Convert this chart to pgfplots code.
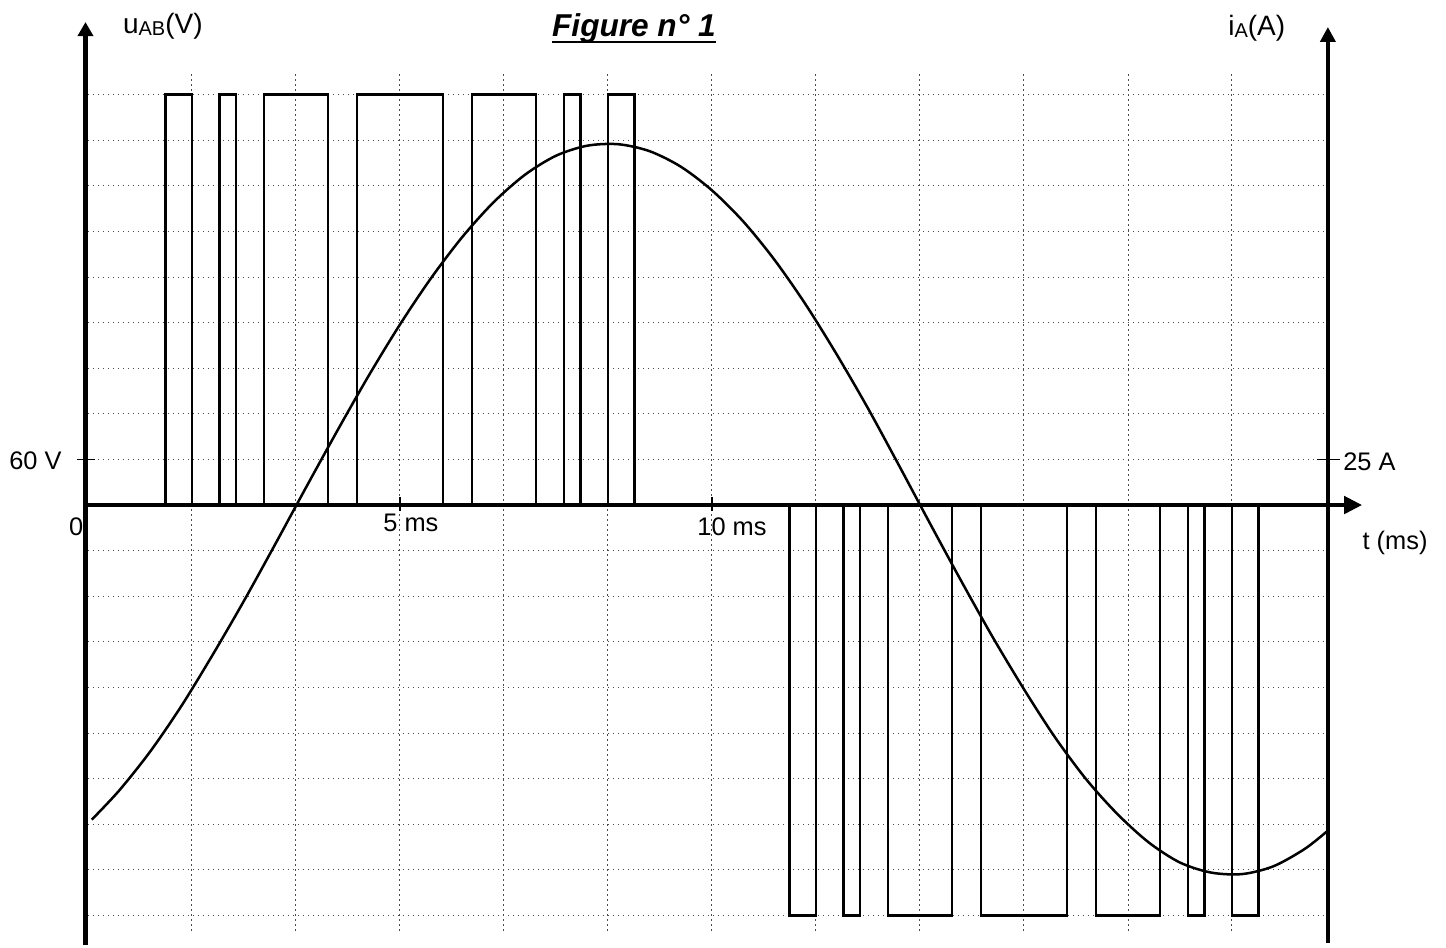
\documentclass[border=0pt]{standalone}
\usepackage{fontspec}
\setmainfont{Liberation Sans}
\usepackage{pgfplots}
\usepackage{pgfplotstable}
\pgfplotsset{compat=1.18}
\usetikzlibrary{arrows.meta}

\pgfplotstableread{
t u
0 0
1.24 540
1.667 0
2.11 540
2.37 0
2.82 540
3.85 0
4.31 540
5.69 0
6.15 540
7.18 0
7.63 540
7.89 0
8.333 540
8.76 0
11.24 -540
11.667 0
12.11 -540
12.37 0
12.82 -540
13.85 0
14.31 -540
15.69 0
16.15 -540
17.18 0
17.63 -540
17.89 0
18.333 -540
18.76 0
19.87 0
}\uab

\pgfplotstableread{
t i
0.06 -172.5
0.5 -156.5
1 -135
1.5 -110
2 -82
2.5 -52.5
3 -21.5
3.5 10
4 41
4.5 71
5 99
5.5 124.5
6 147
6.5 166
7 181
7.5 191.5
8 197
8.5 197.8
9 194
9.5 185.5
10 172.5
10.5 155.5
11 134.5
11.5 110
12 82.5
12.5 53
13 21.5
13.5 -10.5
14 -42
14.5 -72.5
15 -101
15.5 -127.5
16 -150.5
16.5 -169.5
17 -185
17.5 -196
18 -201.5
18.5 -202.3
19 -198
19.5 -188.5
19.87 -178.5
}\ia

\tikzset{gridl/.style={line width=0.5bp, black!70, dash pattern=on 0.7bp off 1.8bp}}

\begin{document}
\begin{tikzpicture}[font=\fontsize{12.7bp}{15bp}\selectfont]
\begin{axis}[at={(0,0)}, anchor=south west, scale only axis,
  width=723bp, height=472.5bp,
  xmin=-1.41, xmax=21.763, ymin=-578.9, ymax=664.5,
  hide axis, clip=false]
  \path (axis cs:-1.41,-578.9) rectangle (axis cs:21.763,664.5);
  % grid
  \pgfplotsinvokeforeach{1.6667,3.3333,5,6.6667,8.3333,10,11.6667,13.3333,15,16.6667,18.3333}{
    \draw[gridl] (axis cs:#1,-560) -- (axis cs:#1,570);
  }
  \pgfplotsinvokeforeach{-540,-480,-420,-360,-300,-240,-180,-120,-60,60,120,180,240,300,360,420,480,540}{
    \draw[gridl] (axis cs:0,#1) -- (axis cs:19.87,#1);
  }
  % voltage
  \addplot[const plot, black, line width=1.2bp] table[x=t,y=u]{\uab};
  % axes
  \draw[line width=2.3bp, -{Triangle[length=7bp,width=7.5bp]}] (axis cs:-0.04,-578.9) -- (axis cs:-0.04,635.5);
  \draw[line width=2.3bp, -{Triangle[length=7.5bp,width=7.5bp]}] (axis cs:19.87,-576) -- (axis cs:19.87,629);
  \draw[line width=2.4bp, -{Triangle[length=9bp,width=8.5bp]}] (axis cs:-0.04,0) -- (axis cs:20.42,0);
  % ticks
  \draw[line width=0.9bp] (axis cs:-0.176,60) -- (axis cs:0.112,60);
  \draw[line width=0.9bp] (axis cs:19.70,60) -- (axis cs:20.06,60);
  \draw[line width=0.9bp] (axis cs:5,-8) -- (axis cs:5,10);
  \draw[line width=0.9bp] (axis cs:10,-8) -- (axis cs:10,10);
  % labels
  \node[anchor=base, inner sep=0] at (axis cs:1.2,621) {\fontsize{14bp}{16bp}\selectfont u\raisebox{-1bp}{\fontsize{10bp}{11bp}\selectfont AB}(V)};
  \node[anchor=base, inner sep=0] at (axis cs:18.73,618) {\fontsize{14bp}{16bp}\selectfont i\raisebox{-1bp}{\fontsize{10bp}{11bp}\selectfont A}(A)};
  \node[anchor=base, inner sep=0] (title) at (axis cs:8.75,617) {\fontsize{15.8bp}{18bp}\selectfont\bfseries\itshape Figure n° 1};
  \node[anchor=base east, inner sep=0] at (axis cs:-0.417,47.4) {60 V};
  \node[anchor=center, inner sep=0] at (axis cs:-0.19,-28) {0};
  \node[anchor=base west, inner sep=0] at (axis cs:4.728,-35.1) {5 ms};
  \node[anchor=base west, inner sep=0] at (axis cs:9.76,-39.5) {10 ms};
  \node[anchor=base west, inner sep=0] at (axis cs:20.42,-57.9) {t (ms)};
  \node[anchor=base west, inner sep=0] at (axis cs:20.11,45.1) {25 A};
\end{axis}
\draw[line width=1.1bp] ([yshift=-2.9bp]title.base west) -- ([yshift=-2.9bp]title.base east);
\begin{axis}[at={(0,0)}, anchor=south west, scale only axis,
  width=723bp, height=472.5bp,
  xmin=-1.41, xmax=21.763, ymin=-241.208, ymax=276.875,
  hide axis, clip=false]
  \addplot[smooth, black, line width=1.25bp] table[x=t,y=i]{\ia};
\end{axis}
\end{tikzpicture}
\end{document}
